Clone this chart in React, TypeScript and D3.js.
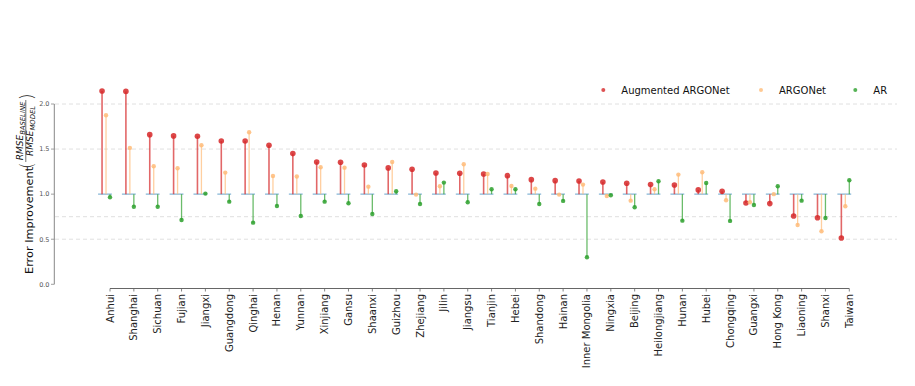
import React from 'react';
import * as d3 from 'd3';

// provinces, sorted by Augmented ARGONet improvement
const provinces = [
  'Anhui', 'Shanghai', 'Sichuan', 'Fujian', 'Jiangxi', 'Guangdong', 'Qinghai', 'Henan',
  'Yunnan', 'Xinjiang', 'Gansu', 'Shaanxi', 'Guizhou', 'Zhejiang', 'Jilin', 'Jiangsu',
  'Tianjin', 'Hebei', 'Shandong', 'Hainan', 'Inner Mongolia', 'Ningxia', 'Beijing',
  'Heilongjiang', 'Hunan', 'Hubei', 'Chongqing', 'Guangxi', 'Hong Kong', 'Liaoning',
  'Shanxi', 'Taiwan',
];

const augmented = [
  2.145, 2.14, 1.66, 1.646, 1.642, 1.59, 1.59, 1.543,
  1.45, 1.357, 1.354, 1.324, 1.291, 1.276, 1.235, 1.232,
  1.224, 1.205, 1.161, 1.15, 1.146, 1.135, 1.121,
  1.106, 1.102, 1.047, 1.032, 0.902, 0.895, 0.758,
  0.739, 0.514,
];

const argonet = [
  1.876, 1.513, 1.31, 1.287, 1.543, 1.239, 1.687, 1.202,
  1.195, 1.298, 1.294, 1.083, 1.357, 0.995, 1.088, 1.332,
  1.224, 1.091, 1.061, 0.995, 1.106, 0.98, 0.928,
  1.054, 1.217, 1.243, 0.932, 0.91, 1.0, 0.658,
  0.588, 0.866,
];

const ar = [
  0.966, 0.861, 0.861, 0.714, 1.006, 0.917, 0.684, 0.869,
  0.758, 0.917, 0.899, 0.78, 1.032, 0.891, 1.128, 0.91,
  1.054, 1.054, 0.891, 0.925, 0.3, 0.987, 0.854,
  1.143, 0.706, 1.124, 0.703, 0.88, 1.088, 0.928,
  0.736, 1.154,
];

const yTicks = [0, 0.5, 1.0, 1.5, 2.0];
const gridValues = [0.5, 0.75, 1.5, 2.0];

const series = [
  { name: 'Augmented ARGONet', values: augmented, color: '#d62728', offset: -1 / 3, r: 2.8, sw: 1.6 },
  { name: 'ARGONet', values: argonet, color: '#ffbb78', offset: -1 / 6, r: 2.2, sw: 1.3 },
  { name: 'AR', values: ar, color: '#2ca02c', offset: 0, r: 2.2, sw: 1.3 },
];

const W = 915;
const H = 386;
const font = 'DejaVu Sans, sans-serif';

export default function App() {
  const y = d3.scaleLinear().domain([0, 2]).range([284.3, 104]);
  const x = d3.scalePoint<string>().domain(provinces).range([110, 849.3]);
  const step = x.step();
  const base = y(1);

  const legendX = [603.3, 761, 855.3];

  return (
    <svg width={W} height={H} style={{ position: 'absolute', left: 0, top: 0, background: '#fff' }}>
      {/* dashed grid */}
      {gridValues.map(v => (
        <line key={v} x1={55} x2={897} y1={y(v)} y2={y(v)} stroke="#dddddd" strokeWidth={0.9} strokeDasharray="4,3" />
      ))}

      {/* baselines at 1.0 */}
      {provinces.map(p => (
        <line key={'b' + p} x1={x(p)! - step * 0.5} x2={x(p)! + step * 0.08} y1={base} y2={base}
          stroke="#1f77b4" strokeOpacity={0.45} strokeWidth={1.5} />
      ))}

      {/* stems and markers */}
      {series.map(s => (
        <g key={s.name}>
          {s.values.map((v, i) => {
            const cx = x(provinces[i])! + s.offset * step;
            return (
              <g key={i}>
                <line x1={cx} x2={cx} y1={base} y2={y(v)} stroke={s.color} strokeOpacity={0.7} strokeWidth={s.sw} />
                <circle cx={cx} cy={y(v)} r={s.r} fill={s.color} fillOpacity={0.85} />
              </g>
            );
          })}
        </g>
      ))}

      {/* y axis */}
      <line x1={54.3} x2={54.3} y1={y(2)} y2={y(0)} stroke="#888" strokeWidth={1} />
      {yTicks.map(t => (
        <g key={t}>
          <line x1={51} x2={54.3} y1={y(t)} y2={y(t)} stroke="#888" strokeWidth={0.8} />
          <text x={49.5} y={y(t)} dy="0.35em" textAnchor="end" fontSize={6.5} fill="#555" fontFamily={font}>
            {d3.format('.1f')(t)}
          </text>
        </g>
      ))}

      {/* x axis */}
      <line x1={x(provinces[0])} x2={x(provinces[provinces.length - 1])} y1={288.5} y2={288.5} stroke="#666" strokeWidth={1} />
      {provinces.map(p => (
        <g key={'t' + p}>
          <line x1={x(p)} x2={x(p)} y1={288.5} y2={291.5} stroke="#666" strokeWidth={0.8} />
          <text transform={`translate(${x(p)},294) rotate(-90)`} dy="0.35em" textAnchor="end"
            fontSize={10} fill="#222" fontFamily={font}>{p}</text>
        </g>
      ))}

      {/* y label */}
      <g transform="rotate(-90)" fontFamily={font} fill="#111">
        <text x={-274} y={33.3} fontSize={11.3}>Error Improvement</text>
        <text x={-169} y={32.5} fontSize={17} fontWeight={300}>(</text>
        <text x={-131} y={23} fontSize={9} fontStyle="italic" textAnchor="middle">
          RMSE<tspan fontSize={6.8} dy={1.6}>BASELINE</tspan>
        </text>
        <line x1={-162} x2={-100} y1={25.8} y2={25.8} stroke="#111" strokeWidth={0.6} />
        <text x={-131} y={33} fontSize={9} fontStyle="italic" textAnchor="middle">
          RMSE<tspan fontSize={6.8} dy={1.6}>MODEL</tspan>
        </text>
        <text x={-100} y={32.5} fontSize={17} fontWeight={300}>)</text>
      </g>

      {/* legend */}
      {series.map((s, i) => (
        <g key={'l' + s.name}>
          <circle cx={legendX[i]} cy={90} r={2} fill={s.color} fillOpacity={0.8} />
          <text x={legendX[i] + 18} y={90} dy="0.35em" fontSize={10} fill="#111" fontFamily={font}>{s.name}</text>
        </g>
      ))}
    </svg>
  );
}
